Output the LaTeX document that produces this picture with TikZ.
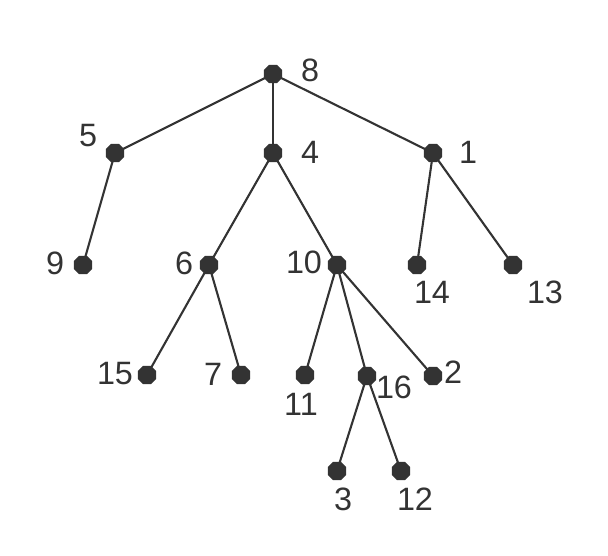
\documentclass[tikz,border=0pt]{standalone}
\usepackage{fontspec}
\setmainfont{Liberation Sans}
\usetikzlibrary{shapes.geometric}
\definecolor{dot}{HTML}{333333}
\begin{document}
\begin{tikzpicture}[x=0.025cm,y=-0.025cm,
  vert/.style={regular polygon,regular polygon sides=8,fill=dot,draw=none,minimum size=0.5cm,inner sep=0pt},
  lbl/.style={font=\fontsize{23}{27}\selectfont,text=dot,inner sep=0pt},
  edge/.style={draw=dot,line width=1.5pt}]
\useasboundingbox (0,0) rectangle (608,556);
\node [vert] (8) at (273,74) {};
\node [vert] (5) at (115,153) {};
\node [vert] (4) at (273,153) {};
\node [vert] (1) at (433,153) {};
\node [vert] (9) at (83,265) {};
\node [vert] (6) at (209,265) {};
\node [vert] (10) at (337,265) {};
\node [vert] (14) at (417,265) {};
\node [vert] (13) at (513,265) {};
\node [vert] (15) at (147,375) {};
\node [vert] (7) at (241,375) {};
\node [vert] (11) at (305,375) {};
\node [vert] (16) at (367,376) {};
\node [vert] (2) at (433,376) {};
\node [vert] (3) at (337,471) {};
\node [vert] (12) at (401,471) {};

\draw [edge] (8.center) -- (5.center);
\draw [edge] (8.center) -- (4.center);
\draw [edge] (8.center) -- (1.center);
\draw [edge] (5.center) -- (9.center);
\draw [edge] (4.center) -- (6.center);
\draw [edge] (4.center) -- (10.center);
\draw [edge] (1.center) -- (14.center);
\draw [edge] (1.center) -- (13.center);
\draw [edge] (6.center) -- (15.center);
\draw [edge] (6.center) -- (7.center);
\draw [edge] (10.center) -- (11.center);
\draw [edge] (10.center) -- (16.center);
\draw [edge] (10.center) -- (2.center);
\draw [edge] (16.center) -- (3.center);
\draw [edge] (16.center) -- (12.center);

\node [lbl] (l8) at (310,70) {8};
\node [lbl] (l5) at (88,136) {5};
\node [lbl] (l4) at (310,152) {4};
\node [lbl] (l1) at (468,152) {1};
\node [lbl] (l9) at (55,263) {9};
\node [lbl] (l6) at (184,263) {6};
\node [lbl] (l10) at (304,262) {10};
\node [lbl] (l14) at (432,292) {14};
\node [lbl] (l13) at (545,292) {13};
\node [lbl] (l15) at (115,374) {15};
\node [lbl] (l7) at (213,374) {7};
\node [lbl] (l11) at (301,404) {11};
\node [lbl] (l16) at (394,387) {16};
\node [lbl] (l2) at (453,372) {2};
\node [lbl] (l3) at (343,499) {3};
\node [lbl] (l12) at (415,499) {12};
\end{tikzpicture}
\end{document}
